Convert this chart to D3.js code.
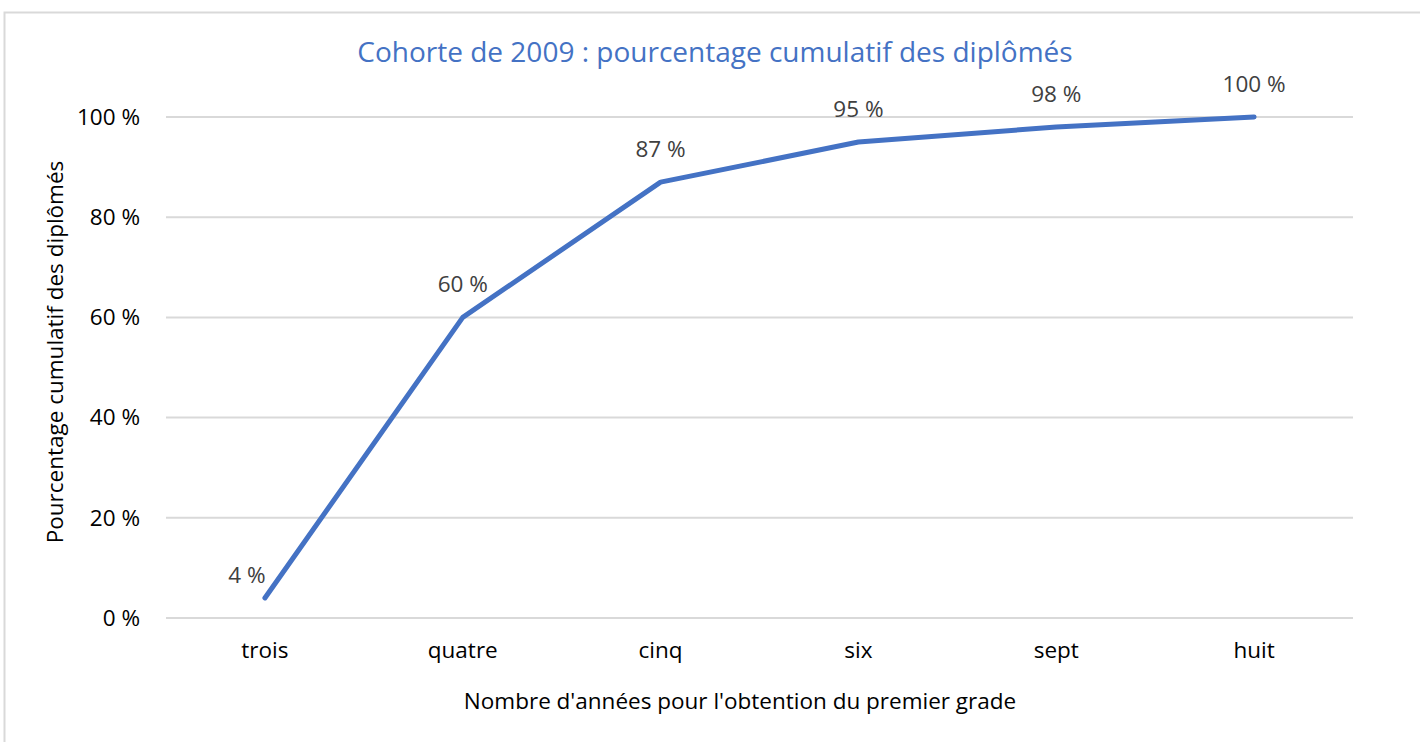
<!DOCTYPE html>
<html><head><meta charset="utf-8">
<script src="https://cdn.jsdelivr.net/npm/d3@7"></script>
<style>body{margin:0;background:#fff;}svg{display:block;}</style>
</head><body>
<script>
const categories = ["trois","quatre","cinq","six","sept","huit"];
const values = [4,60,87,95,98,100];
const yTicks = [0,20,40,60,80,100];
const title = "Cohorte de 2009 : pourcentage cumulatif des diplômés";
const xTitle = "Nombre d'années pour l'obtention du premier grade";
const yTitle = "Pourcentage cumulatif des diplômés";

const W = 1420, H = 742;
const font = "'Open Sans', sans-serif";
const fs = 22.5;
const svg = d3.select("body").append("svg").attr("width", W).attr("height", H);
svg.append("rect").attr("x",4.5).attr("y",12.5).attr("width",W).attr("height",H)
  .attr("fill","none").attr("stroke","#d9d9d9").attr("stroke-width",2);

const m = {left:166, right:1353, top:117, bottom:618};
const x = d3.scaleBand().domain(categories).range([m.left, m.right]);
const y = d3.scaleLinear().domain([0,100]).range([m.bottom, m.top]);

// grid
svg.append("g").selectAll("line").data(yTicks).join("line")
  .attr("x1", m.left).attr("x2", m.right)
  .attr("y1", d=>y(d)).attr("y2", d=>y(d))
  .attr("stroke","#d9d9d9").attr("stroke-width",2);

// y axis
const yAxis = svg.append("g").attr("transform",`translate(${m.left},0)`)
  .call(d3.axisLeft(y).tickValues(yTicks).tickSize(0).tickPadding(26).tickFormat(d=>d+" %"));
yAxis.select(".domain").remove();
yAxis.selectAll("text").attr("font-family",font).attr("font-size",fs).attr("fill","#000");

// x axis
const xAxis = svg.append("g").attr("transform",`translate(0,${m.bottom})`)
  .call(d3.axisBottom(x).tickSize(0).tickPadding(24));
xAxis.select(".domain").remove();
xAxis.selectAll("text").attr("font-family",font).attr("font-size",fs).attr("fill","#000");

// line
const cx = d => x(d) + x.bandwidth()/2;
const line = d3.line().x((d,i)=>cx(categories[i])).y(d=>y(d));
svg.append("path").datum(values).attr("d", line)
  .attr("fill","none").attr("stroke","#4472c4").attr("stroke-width",5)
  .attr("stroke-linecap","round").attr("stroke-linejoin","round");

// labels
svg.append("g").selectAll("text").data(values).join("text")
  .attr("x",(d,i)=>cx(categories[i]) + (i===0 ? -18 : 0))
  .attr("y",(d,i)=>y(d) - (i===0 ? 15 : 25))
  .attr("text-anchor","middle")
  .attr("font-family",font).attr("font-size",fs).attr("fill","#404040")
  .text(d=>d+" %");

// titles
svg.append("text").attr("x",715).attr("y",62).attr("text-anchor","middle")
  .attr("font-family",font).attr("font-size",28).attr("fill","#4472c4").text(title);
svg.append("text").attr("x",740).attr("y",709).attr("text-anchor","middle")
  .attr("font-family",font).attr("font-size",fs).attr("fill","#000").text(xTitle);
svg.append("text").attr("transform","translate(63,352) rotate(-90)").attr("text-anchor","middle")
  .attr("font-family",font).attr("font-size",fs).attr("fill","#000").text(yTitle);
</script>
</body></html>
